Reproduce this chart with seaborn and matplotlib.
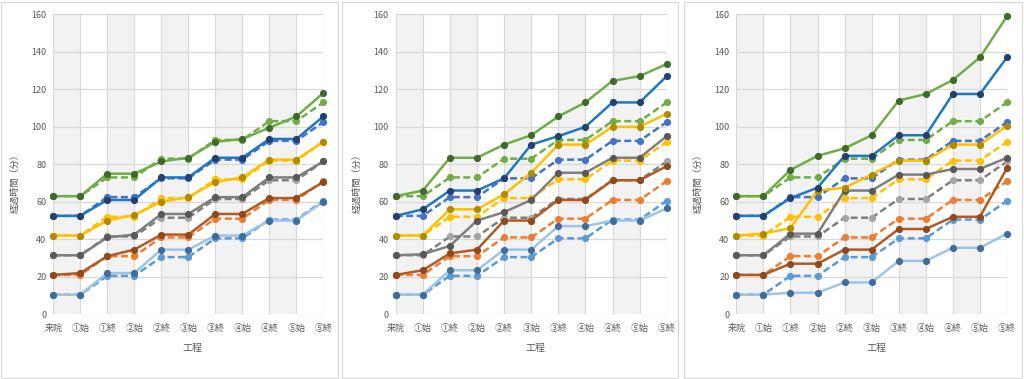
"""
工程ごとの経過時間 — 3 パターン比較
破線 = 予定, 実線 = 実績
"""

import matplotlib
matplotlib.use("Agg")
import matplotlib.pyplot as plt
from matplotlib.patches import Rectangle
import seaborn as sns

STAGES = ["来院", "①始", "①終", "②始", "②終", "③始",
          "③終", "④始", "④終", "⑤始", "⑤終"]
Y_TICKS = [0, 20, 40, 60, 80, 100, 120, 140, 160]

# 予定 (破線) — 3 枚とも同じ
plan_1 = [10.5, 10.5, 20.5, 20.5, 30.5, 30.5, 40.5, 40.5, 50.5, 50.5, 60.5]
plan_2 = [21, 21, 31, 31, 41, 41, 51, 51, 61, 61, 71]
plan_3 = [31.5, 31.5, 41.5, 41.5, 51.5, 51.5, 61.5, 61.5, 71.5, 71.5, 81.5]
plan_4 = [42, 42, 52, 52, 62, 62, 72, 72, 82, 82, 92]
plan_5 = [52.5, 52.5, 62.5, 62.5, 72.5, 72.5, 82.5, 82.5, 92.5, 92.5, 102.5]
plan_6 = [63, 63, 73, 73, 83, 83, 93, 93, 103, 103, 113]

# 実績 (実線) — 左
a1_1 = [10.5, 10.5, 22, 22, 34.5, 34.5, 42, 42, 50, 50, 60]
a1_2 = [21, 22, 31, 34.5, 42.5, 42.5, 53.5, 53.5, 62, 62, 70.5]
a1_3 = [31.5, 31.5, 41, 42.5, 53.5, 53.5, 62.5, 62.5, 73, 73, 81.5]
a1_4 = [42, 42, 50, 53, 60, 62.5, 70.5, 73, 82.5, 82.5, 92]
a1_5 = [52.5, 52.5, 61, 61, 73, 73, 83.5, 83.5, 93.5, 93.5, 105.5]
a1_6 = [63, 63, 75, 75, 81.5, 83.5, 92, 93.5, 99.5, 105.5, 118]

# 実績 — 中
a2_1 = [10.5, 10.5, 23.5, 23.5, 34.5, 34.5, 47, 47, 50, 50, 56.5]
a2_2 = [21, 23.5, 32.5, 34.5, 50, 50, 61, 61, 71.5, 71.5, 79]
a2_3 = [31.5, 32, 36.5, 50, 54.5, 61, 75.5, 75.5, 83.5, 83.5, 95]
a2_4 = [42, 42, 56, 56, 64, 75.5, 90.5, 90.5, 100, 100, 107]
a2_5 = [52.5, 56, 66, 66, 72.5, 90.5, 95, 100, 113, 113, 127]
a2_6 = [63, 66, 83.5, 83.5, 90.5, 95.5, 105.5, 113, 124.5, 127, 133.5]

# 実績 — 右
a3_1 = [10.5, 10.5, 11.5, 11.5, 17, 17, 28.5, 28.5, 35.5, 35.5, 43]
a3_2 = [21, 21, 27, 27, 34.5, 34.5, 45.5, 45.5, 52, 52, 78]
a3_3 = [31.5, 31.5, 43, 43, 66, 66, 74.5, 74.5, 77.5, 77.5, 83.5]
a3_4 = [42, 43, 46, 66, 67.5, 74.5, 82, 82, 90.5, 90.5, 100.5]
a3_5 = [52.5, 52.5, 62, 67.5, 84.5, 84.5, 95.5, 95.5, 117.5, 117.5, 137]
a3_6 = [63, 63, 77, 84.5, 88.5, 95.5, 114, 117.5, 125, 137, 159]

PLAN = [plan_1, plan_2, plan_3, plan_4, plan_5, plan_6]
ACTUAL = [
    [a1_1, a1_2, a1_3, a1_4, a1_5, a1_6],
    [a2_1, a2_2, a2_3, a2_4, a2_5, a2_6],
    [a3_1, a3_2, a3_3, a3_4, a3_5, a3_6],
]

PLAN_COLORS = ["#5B9BD5", "#ED7D31", "#7F7F7F", "#FFC000", "#4472C4", "#70AD47"]
PLAN_MARKERS = ["#5B9BD5", "#ED7D31", "#A5A5A5", "#FFC000", "#4472C4", "#70AD47"]
ACT_COLORS = ["#9DC3E6", "#B05A24", "#7F7F7F", "#FFC000", "#1F78C1", "#70AD47"]
ACT_MARKERS = ["#3F6E9C", "#8E4A1E", "#595959", "#B08A00", "#24406F", "#3F6A2A"]

GRID = "#D9D9D9"
BAND = "#F2F2F2"
TEXT = "#595959"

# axes boxes in figure pixels (left, right) and panel frames
AX_X = [(53.3, 323.3), (395.7, 666.7), (736.3, 1007.0)]
FRAMES = [(1, 338), (342, 678), (684, 1022)]
W, H = 1024, 379
AX_TOP, AX_BOT = 14.3, 314.3


def draw_panel(ax, actual):
    x = list(range(len(STAGES)))

    for i in range(0, len(STAGES) - 1, 2):
        ax.axvspan(i, i + 1, color=BAND, lw=0, zorder=0.2)

    for vals, c, mc in zip(PLAN, PLAN_COLORS, PLAN_MARKERS):
        sns.lineplot(x=x, y=vals, ax=ax, color=c, lw=1.8,
                     linestyle=(0, (2.8, 1.4)), marker="o", markersize=4.4,
                     markerfacecolor=mc, markeredgecolor=mc,
                     clip_on=False, zorder=2)
    for vals, c, mc in zip(actual, ACT_COLORS, ACT_MARKERS):
        sns.lineplot(x=x, y=vals, ax=ax, color=c, lw=1.8,
                     marker="o", markersize=4.4,
                     markerfacecolor=mc, markeredgecolor=mc,
                     clip_on=False, zorder=3)

    ax.set_xlim(0, len(STAGES) - 1)
    ax.set_ylim(0, 160)
    ax.set_xticks(x)
    ax.set_xticklabels(STAGES)
    ax.set_yticks(Y_TICKS)
    ax.set_axisbelow(True)
    ax.grid(True, color=GRID, lw=0.9)
    for s in ax.spines.values():
        s.set_visible(False)
    ax.tick_params(length=0, labelsize=6.5, colors=TEXT)
    ax.tick_params(axis="x", pad=7)
    ax.tick_params(axis="y", pad=5)
    ax.set_xlabel("工程", fontsize=7.2, color=TEXT)
    ax.set_ylabel("経過時間（分）", fontsize=6.6, color=TEXT)
    ax.xaxis.set_label_coords(0.516, -0.095)
    ax.yaxis.set_label_coords(-0.125, 0.444)


def main():
    sns.set_theme(style="white")
    plt.rcParams["font.family"] = ["Noto Sans CJK JP", "DejaVu Sans"]

    fig = plt.figure(figsize=(W / 100, H / 100), dpi=100)
    fig.patch.set_facecolor("white")

    for l, r in FRAMES:
        fig.add_artist(Rectangle((l / W, 1 / H), (r - l) / W, (H - 3) / H,
                                 transform=fig.transFigure, fill=False,
                                 edgecolor=GRID, lw=0.9))

    for (x0, x1), actual in zip(AX_X, ACTUAL):
        ax = fig.add_axes([x0 / W, (H - AX_BOT) / H,
                           (x1 - x0) / W, (AX_BOT - AX_TOP) / H])
        draw_panel(ax, actual)

    fig.savefig("out.png", dpi=100, facecolor="white")


if __name__ == "__main__":
    main()
